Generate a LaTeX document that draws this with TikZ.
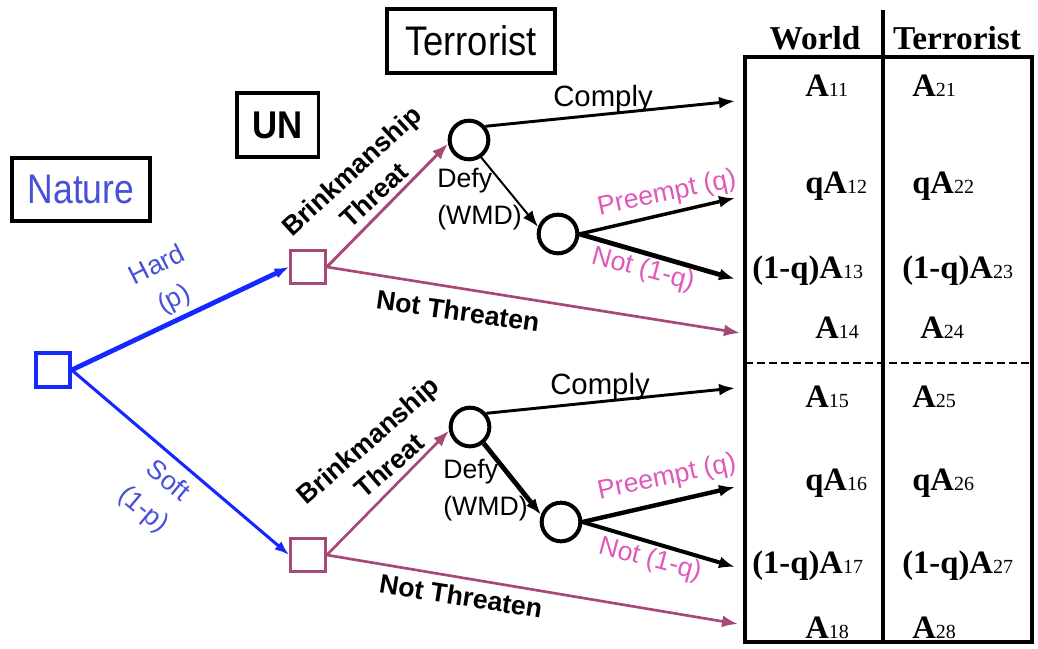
\documentclass[tikz,border=0pt]{standalone}
\usepackage{fontspec}
\setmainfont{Liberation Serif}
\setsansfont{Liberation Sans}
\usetikzlibrary{arrows.meta}
\definecolor{natblue}{RGB}{72,80,216}
\definecolor{lineblue}{RGB}{20,40,255}
\definecolor{mauve}{RGB}{168,72,120}
\definecolor{pinklab}{RGB}{224,88,184}
\newcommand\pay[2]{\textbf{#1}{\fontsize{15}{15}\selectfont\mdseries #2}}
\begin{document}
\begin{tikzpicture}[x=0.75pt,y=-0.75pt,
  titlebox/.style={draw, line width=2.5pt, inner sep=0pt, font=\sffamily\fontsize{31}{31}\selectfont},
  rootsq/.style={draw=lineblue, line width=3pt, minimum size=25pt, inner sep=0pt},
  unsq/.style={draw=mauve, line width=2.2pt, minimum width=26pt, minimum height=25pt, inner sep=0pt},
  chance/.style={draw, circle, line width=3pt, minimum size=29pt, inner sep=0pt},
  tip/.style={-{Latex[length=12pt,width=9pt]}},
  bluetip/.style={-{Latex[length=11pt,width=8pt]}},
  sanslab/.style={font=\sffamily\fontsize{20}{28}\selectfont, align=center, inner sep=0pt},
  boldlab/.style={font=\sffamily\bfseries\fontsize{20}{25}\selectfont, align=center, inner sep=0pt},
  pinkl/.style={font=\sffamily\fontsize{20}{24}\selectfont, text=pinklab, inner sep=0pt},
  entry/.style={anchor=base west, inner sep=0pt, font=\fontsize{24.5}{24.5}\selectfont},
  head/.style={inner sep=0pt, font=\bfseries\fontsize{25}{25}\selectfont}
]
\useasboundingbox (0,0) rectangle (1038,649);

% title boxes
\node[titlebox, minimum width=103.5pt, minimum height=47pt, text=natblue] (nature) at (81,189.5) {\scalebox{0.86}[1]{Nature}};
\node[titlebox, minimum width=61pt, minimum height=48pt] (unbox) at (277.5,125) {\scalebox{0.9}[1]{\bfseries\fontsize{29}{29}\selectfont UN}};
\node[titlebox, minimum width=126pt, minimum height=48pt] (terbox) at (471,41) {\scalebox{0.88}[1]{Terrorist}};

% tree nodes
\node[rootsq] (root) at (53,370) {};
\node[unsq] (un1) at (308,267) {};
\node[unsq] (un2) at (308,555) {};
\node[chance] (t1a) at (469,140) {};
\node[chance] (t1b) at (558,234) {};
\node[chance] (t2a) at (470,427) {};
\node[chance] (t2b) at (561,522) {};

% end points
\coordinate (e1) at (735,101);
\coordinate (e2) at (735,198);
\coordinate (e3) at (735,279);
\coordinate (e4) at (740,333);
\coordinate (e5) at (735,388);
\coordinate (e6) at (735,487);
\coordinate (e7) at (735,567);
\coordinate (e8) at (738,624);

% nature edges
\draw[lineblue, line width=3.6pt, bluetip] (root.east) -- (un1.west);
\draw[lineblue, line width=2.3pt, bluetip] (root.east) -- (un2.west);
\node[sanslab, text=natblue, rotate=27] (hard) at (166,283) {Hard\\(p)};
\node[sanslab, text=natblue, rotate=-40] (soft) at (155,496) {Soft\\(1-p)};

% UN edges
\draw[mauve, line width=2.2pt, tip] (un1.east) -- (t1a.190);
\draw[mauve, line width=2pt, tip] (un1.east) -- (e4);
\draw[mauve, line width=2pt, tip] (un2.east) -- (t2a.190);
\draw[mauve, line width=2pt, tip] (un2.east) -- (e8);
\node[boldlab, rotate=42.5] (bt1) at (362.5,182.5) {Brinkmanship\\Threat};
\node[boldlab, rotate=41] (bt2) at (378.5,453) {Brinkmanship\\Threat};
\node[boldlab, rotate=-8] (nt1) at (458,311) {Not Threaten};
\node[boldlab, rotate=-9] (nt2) at (461,596) {Not Threaten};

% terrorist edges, upper
\draw[line width=2.2pt, tip] (t1a.40) -- (e1);
\draw[line width=1.5pt, tip] (t1a.-55) -- (t1b.160);
\draw[line width=2.6pt, tip] (t1b.east) -- (e2);
\draw[line width=3.6pt, tip] (t1b.east) -- (e3);
% terrorist edges, lower
\draw[line width=2.2pt, tip] (t2a.40) -- (e5);
\draw[line width=3.6pt, tip] (t2a.-50) -- (t2b.160);
\draw[line width=3.3pt, tip] (t2b.east) -- (e6);
\draw[line width=3pt, tip] (t2b.east) -- (e7);

\node[font=\sffamily\fontsize{22}{22}\selectfont, anchor=base, inner sep=0pt] (c1) at (603,107) {Comply};
\node[font=\sffamily\fontsize{22}{22}\selectfont, anchor=base, inner sep=0pt] (c2) at (600,394) {Comply};
\node[sanslab, align=left, anchor=west] (d1) at (437,199) {Defy\\(WMD)};
\node[sanslab, align=left, anchor=west] (d2) at (443,490) {Defy\\(WMD)};
\node[pinkl, rotate=12] (p1) at (667,194) {Preempt (q)};
\node[pinkl, rotate=-15] (n1) at (643,270) {Not (1-q)};
\node[pinkl, rotate=12] (p2) at (667,478) {Preempt (q)};
\node[pinkl, rotate=-15] (n2) at (650,560) {Not (1-q)};

% payoff table
\draw[line width=2.8pt] (745,57) rectangle (1032,642);
\draw[line width=3pt] (883,10) -- (883,642);
\draw[line width=1.5pt, dash pattern=on 6pt off 3pt] (745,363) -- (1032,363);
\node[head] (hw) at (815,38) {World};
\node[head] (ht) at (957,38) {Terrorist};

\node[entry] (a11) at (805,97) {\pay{A}{11}};
\node[entry] (a12) at (805,193) {\pay{qA}{12}};
\node[entry] (a13) at (752,278) {\pay{(1-q)A}{13}};
\node[entry] (a14) at (815,338) {\pay{A}{14}};
\node[entry] (a15) at (805,407) {\pay{A}{15}};
\node[entry] (a16) at (805,490) {\pay{qA}{16}};
\node[entry] (a17) at (752,573) {\pay{(1-q)A}{17}};
\node[entry] (a18) at (805,638) {\pay{A}{18}};

\node[entry] (a21) at (912,97) {\pay{A}{21}};
\node[entry] (a22) at (912,193) {\pay{qA}{22}};
\node[entry] (a23) at (902,278) {\pay{(1-q)A}{23}};
\node[entry] (a24) at (920,338) {\pay{A}{24}};
\node[entry] (a25) at (912,407) {\pay{A}{25}};
\node[entry] (a26) at (912,490) {\pay{qA}{26}};
\node[entry] (a27) at (902,573) {\pay{(1-q)A}{27}};
\node[entry] (a28) at (912,638) {\pay{A}{28}};
\end{tikzpicture}
\end{document}
